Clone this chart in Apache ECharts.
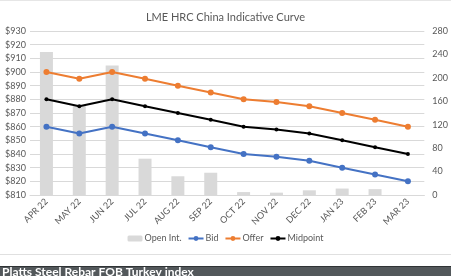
<!DOCTYPE html>
<html>
<head>
<meta charset="utf-8">
<script src="https://cdn.jsdelivr.net/npm/echarts@6/dist/echarts.min.js"></script>
<style>
html, body { margin: 0; padding: 0; background: #fff; }
#chart { width: 451px; height: 276px; }
</style>
</head>
<body>
<div id="chart"></div>
<script>
var months = ['APR 22', 'MAY 22', 'JUN 22', 'JUL 22', 'AUG 22', 'SEP 22', 'OCT 22', 'NOV 22', 'DEC 22', 'JAN 23', 'FEB 23', 'MAR 23']
var openInt = [244, 152, 221, 62, 32, 38, 5, 4, 8, 11, 10, 0]
var bid = [860, 855, 860, 855, 850, 845, 840, 838, 835, 830, 825, 820]
var offer = [900, 895, 900, 895, 890, 885, 880, 878, 875, 870, 865, 860]
var midpoint = [880, 875, 880, 875, 870, 865, 860, 858, 855, 850, 845, 840]

var txt = '#595959'
var chart = echarts.init(document.getElementById('chart'))
var option = {
  animation: false,
  textStyle: { fontFamily: 'Lato' },
  title: {
    text: 'LME HRC China Indicative Curve',
    left: 'center',
    top: 7,
    textStyle: { color: txt, fontSize: 11, fontWeight: 'normal', fontFamily: 'Lato' }
  },
  legend: {
    bottom: 28,
    left: 'center',
    itemWidth: 15,
    itemHeight: 6,
    itemGap: 6,
    textStyle: { color: txt, fontSize: 9, padding: [0, 0, 0, -3] },
    data: ['Open Int.', 'Bid', 'Offer', 'Midpoint']
  },
  grid: { left: 30, right: 23, top: 31, bottom: 81 },
  xAxis: {
    type: 'category',
    data: months,
    axisTick: { show: false },
    axisLine: { lineStyle: { color: '#d9d9d9' } },
    axisLabel: { color: txt, fontSize: 9, rotate: 45, margin: 5, interval: 0 }
  },
  yAxis: [
    {
      type: 'value',
      min: 810, max: 930, interval: 10,
      axisLine: { show: false },
      axisTick: { show: false },
      axisLabel: { color: txt, fontSize: 9, margin: 4, formatter: function (v) { return '$' + v } },
      splitLine: { lineStyle: { color: '#d9d9d9' } }
    },
    {
      type: 'value',
      min: 0, max: 280, interval: 40,
      axisLine: { show: false },
      axisTick: { show: false },
      axisLabel: { color: txt, fontSize: 9, margin: 8 },
      splitLine: { show: false }
    }
  ],
  series: [
    {
      name: 'Open Int.',
      type: 'bar',
      yAxisIndex: 1,
      barWidth: 13,
      itemStyle: { color: '#d9d9d9' },
      data: openInt
    },
    {
      name: 'Bid',
      type: 'line',
      symbol: 'circle',
      symbolSize: 6,
      lineStyle: { width: 2, color: '#4472c4' },
      itemStyle: { color: '#4472c4' },
      data: bid
    },
    {
      name: 'Offer',
      type: 'line',
      symbol: 'circle',
      symbolSize: 6,
      lineStyle: { width: 2, color: '#ed7d31' },
      itemStyle: { color: '#ed7d31' },
      data: offer
    },
    {
      name: 'Midpoint',
      type: 'line',
      symbol: 'circle',
      symbolSize: 4,
      lineStyle: { width: 2, color: '#000' },
      itemStyle: { color: '#000' },
      data: midpoint
    }
  ],
  graphic: [
    { type: 'rect', shape: { x: 0, y: 0, width: 451, height: 1 }, style: { fill: '#e6e6e6' } },
    { type: 'rect', shape: { x: 0, y: 254, width: 451, height: 1 }, style: { fill: '#e0e0e0' } },
    { type: 'rect', shape: { x: 0, y: 266, width: 451, height: 10 }, style: { fill: '#53585b' } },
    { type: 'rect', shape: { x: 0, y: 266, width: 451, height: 1 }, style: { fill: '#2f3335' } },
    {
      type: 'text', left: 2, top: 266,
      style: { text: 'Platts Steel Rebar FOB Turkey index', fill: '#fff', font: 'bold 12px Lato' }
    }
  ]
}
chart.setOption(option)
</script>
</body>
</html>
